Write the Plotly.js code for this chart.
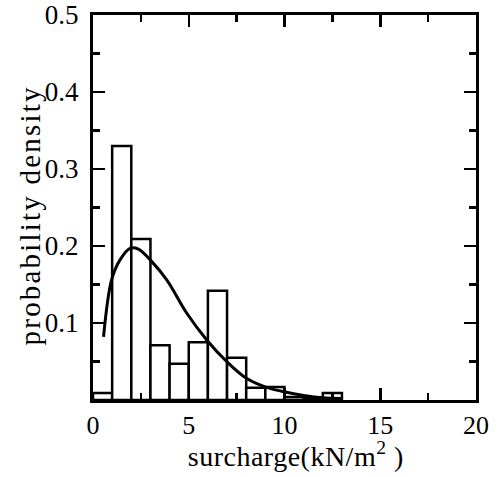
<!DOCTYPE html>
<html>
<head>
<meta charset="utf-8">
<script src="https://cdn.plot.ly/plotly-3.0.1.min.js"></script>
<style>
html,body{margin:0;padding:0;background:#fff;}
#chart{width:504px;height:477px;}
.annotation[data-index="1"] text{letter-spacing:2.2px;}
.annotation[data-index="0"] text{letter-spacing:0.5px;}
</style>
</head>
<body>
<div id="chart"></div>
<script>
// Histogram bins (left edge of each 1-unit bin) and densities
const binLeft = [0, 1, 2, 3, 4, 5, 6, 7, 8, 9, 10, 11, 12];
const binDensity = [0.009, 0.330, 0.209, 0.071, 0.047, 0.075, 0.142, 0.055, 0.016, 0.017, 0.004, 0.003, 0.009];

// Fitted probability density curve
const curveX = [0.55, 0.97, 1.41, 1.93, 2.37, 3.06, 3.85, 4.89, 5.94, 6.98, 8.03, 9.24, 10.1, 11.0, 12.0, 13.0];
const curveY = [0.082, 0.156, 0.182, 0.197, 0.196, 0.180, 0.156, 0.113, 0.078, 0.050, 0.028, 0.015, 0.010, 0.006, 0.003, 0.002];

const xTicks = [0, 5, 10, 15, 20];
const yTicks = [0.1, 0.2, 0.3, 0.4, 0.5];

const xTitle = 'surcharge(kN/m<sup>2</sup> )';
const yTitle = 'probability density';

const binWidth = 1;
const binCenter = binLeft.map(v => v + binWidth / 2);

const font = {family: '"Liberation Serif", "Times New Roman", serif', color: '#000'};

const traces = [
  {
    type: 'bar', x: binCenter, y: binDensity, width: binWidth,
    marker: {color: '#fff', line: {color: '#000', width: 2.5}},
    hoverinfo: 'skip', showlegend: false
  },
  {
    type: 'scatter', mode: 'lines', x: curveX, y: curveY,
    line: {color: '#000', width: 3, shape: 'spline', smoothing: 1},
    hoverinfo: 'skip', showlegend: false
  }
];

const layout = {
  width: 504, height: 477,
  margin: {l: 93, r: 28, t: 15, b: 77},
  paper_bgcolor: '#fff', plot_bgcolor: '#fff',
  font: Object.assign({size: 24}, font),
  bargap: 0,
  xaxis: {
    range: [0, 20], tickvals: xTicks, ticktext: xTicks.map(String),
    ticks: 'inside', ticklen: 12, tickwidth: 2.5, tickcolor: '#000',
    minor: {dtick: 2.5, tick0: 0, ticks: 'inside', ticklen: 7, tickwidth: 2.5, tickcolor: '#000'},
    showline: true, linecolor: '#000', linewidth: 3, mirror: 'ticks',
    showgrid: false, zeroline: false,
    tickfont: Object.assign({size: 26}, font),
    ticklabeloverflow: 'allow'
  },
  yaxis: {
    range: [0, 0.5], tickvals: yTicks, ticktext: yTicks.map(v => v.toFixed(1)),
    ticks: 'inside', ticklen: 12, tickwidth: 2.5, tickcolor: '#000',
    minor: {dtick: 0.05, tick0: 0, ticks: 'inside', ticklen: 7, tickwidth: 2.5, tickcolor: '#000'},
    showline: true, linecolor: '#000', linewidth: 3, mirror: 'ticks',
    showgrid: false, zeroline: false,
    tickfont: Object.assign({size: 27}, font),
    ticklabelstandoff: 6,
    ticklabeloverflow: 'allow'
  },
  annotations: [
    {
      text: xTitle, xref: 'paper', yref: 'paper', x: 0.5, y: 0, xanchor: 'center', yanchor: 'middle',
      xshift: 11, yshift: -54, showarrow: false, font: Object.assign({size: 28}, font)
    },
    {
      text: yTitle, xref: 'paper', yref: 'paper', x: 0, y: 0.5, xanchor: 'center', yanchor: 'middle',
      xshift: -64, yshift: -8, textangle: -90, showarrow: false, font: Object.assign({size: 29}, font)
    }
  ]
};

Plotly.newPlot('chart', traces, layout, {staticPlot: true, displayModeBar: false});
</script>
</body>
</html>
